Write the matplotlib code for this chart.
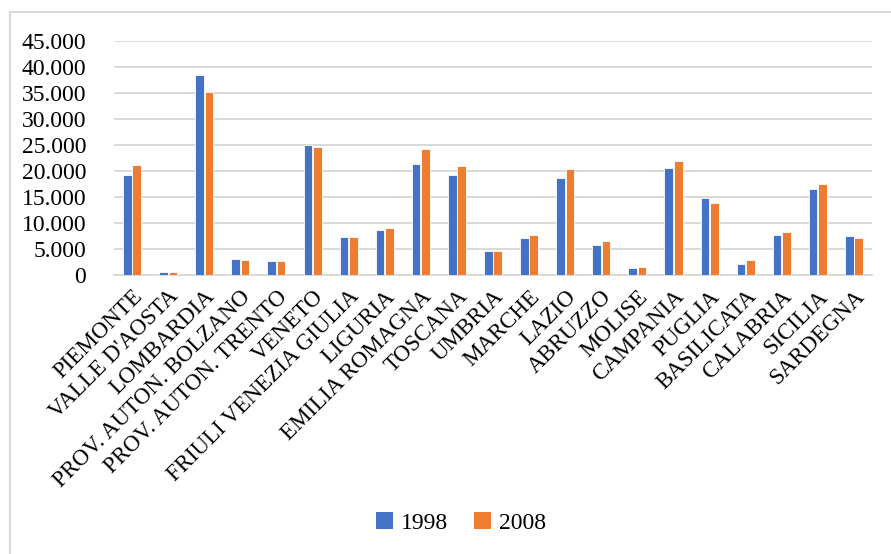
import matplotlib
matplotlib.use("Agg")
import matplotlib.pyplot as plt
from matplotlib.ticker import FuncFormatter, MultipleLocator
from matplotlib.lines import Line2D
from matplotlib.patches import Patch
import numpy as np

regions = ["PIEMONTE", "VALLE D'AOSTA", "LOMBARDIA", "PROV. AUTON. BOLZANO",
           "PROV. AUTON. TRENTO", "VENETO", "FRIULI VENEZIA GIULIA", "LIGURIA",
           "EMILIA ROMAGNA", "TOSCANA", "UMBRIA", "MARCHE", "LAZIO", "ABRUZZO",
           "MOLISE", "CAMPANIA", "PUGLIA", "BASILICATA", "CALABRIA", "SICILIA",
           "SARDEGNA"]
values_1998 = [19230, 580, 38460, 3010, 2760, 25000, 7240, 8720, 21280, 19230,
               4550, 7050, 18590, 5770, 1280, 20510, 14870, 2180, 7690, 16600,
               7440]
values_2008 = [21150, 640, 35260, 2950, 2760, 24680, 7310, 9040, 24290, 20960,
               4680, 7760, 20450, 6470, 1540, 21860, 13780, 2880, 8270, 17500,
               7120]
series_labels = ["1998", "2008"]
colors = ["#4472C4", "#ED7D31"]

W, H = 891, 554
fig = plt.figure(figsize=(W / 100, H / 100), dpi=100)
plt.rcParams["font.family"] = ["Liberation Serif", "DejaVu Serif"]

# chart frame (top and left edges)
frame_color = "#d9d9d9"
fig.add_artist(Line2D([10 / W, 1.0], [1 - 12 / H, 1 - 12 / H], transform=fig.transFigure,
                      color=frame_color, lw=1.5))
fig.add_artist(Line2D([10 / W, 10 / W], [1 - 12 / H, 0.0], transform=fig.transFigure,
                      color=frame_color, lw=1.5))

left, right, top, bottom = 114, 872, 41, 275
ax = fig.add_axes([left / W, 1 - bottom / H, (right - left) / W, (bottom - top) / H])

x = np.arange(len(regions))
bw = 0.24
ax.bar(x - bw / 2 - 0.01, values_1998, width=bw, color=colors[0], edgecolor="white",
       linewidth=0.6, zorder=3)
ax.bar(x + bw / 2 + 0.01, values_2008, width=bw, color=colors[1], edgecolor="white",
       linewidth=0.6, zorder=3)

ax.set_xlim(-0.5, len(regions) - 0.5)
ax.set_ylim(0, 45000)
ax.yaxis.set_major_locator(MultipleLocator(5000))
ax.yaxis.set_major_formatter(FuncFormatter(lambda v, p: f"{int(v):,}".replace(",", ".")))
ax.grid(axis="y", color="#d9d9d9", lw=1.4, zorder=0)
ax.set_axisbelow(True)
for s in ["top", "right", "left"]:
    ax.spines[s].set_visible(False)
ax.spines["bottom"].set_color("#d9d9d9")
ax.spines["bottom"].set_linewidth(1.4)
ax.tick_params(axis="both", length=0)
ax.tick_params(axis="y", pad=20, labelsize=17)
ax.set_xticks(x)
ax.set_xticklabels(regions, rotation=45, ha="right", rotation_mode="anchor")
ax.tick_params(axis="x", pad=8, labelsize=16.5)

handles = [Patch(facecolor=c, label=l) for c, l in zip(colors, series_labels)]
fig.legend(handles=handles, loc="center", bbox_to_anchor=(461 / W, 1 - 523 / H), ncol=2,
           frameon=False, fontsize=17, handlelength=0.7, handleheight=0.7,
           handletextpad=0.35, columnspacing=1.1)

fig.savefig("out.png", dpi=100)
